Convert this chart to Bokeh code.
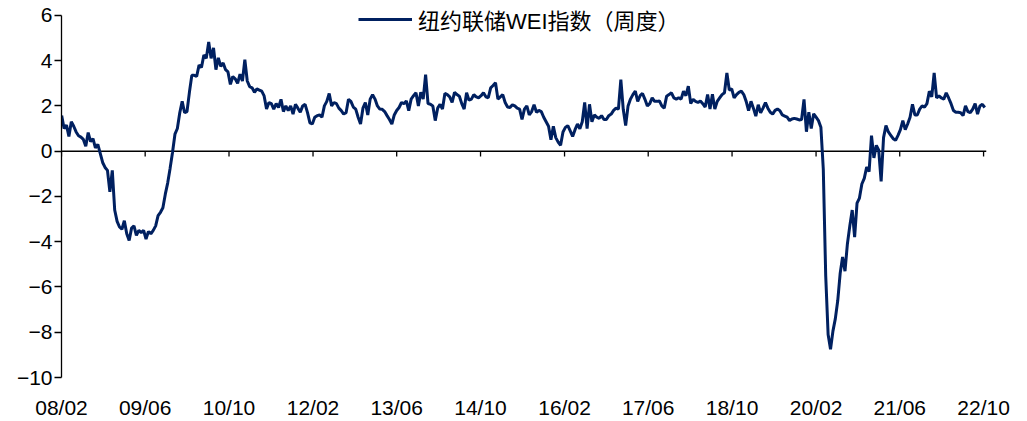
import pandas as pd
from bokeh.plotting import figure
from bokeh.models import (Range1d, FixedTicker, DatetimeTickFormatter, Span,
                          Legend, LegendItem)
from bokeh.embed import file_html
from bokeh.resources import INLINE

series_name = "纽约联储WEI指数（周度）"
start_date = "2008-02-02"
wei = [
    1.57, 1.0, 1.15, 0.65, 1.3, 1.1, 0.85, 0.68, 0.62, 0.52,
    0.22, 0.82, 0.42, 0.55, 0.15, 0.3, -0.1, -0.5, -0.72, -0.85,
    -1.8, -0.85, -2.6, -3.1, -3.35, -3.45, -3.07, -3.65, -3.95, -3.4,
    -3.3, -3.72, -3.5, -3.6, -3.5, -3.88, -3.55, -3.65, -3.5, -3.3,
    -2.85, -2.7, -2.5, -1.9, -1.4, -0.75, -0.05, 0.75, 1.0, 1.7,
    2.2, 1.7, 1.75, 2.6, 3.35, 3.35, 3.3, 3.8, 3.7, 4.25,
    4.1, 4.83, 4.1, 4.56, 3.6, 4.12, 3.75, 3.9, 3.6, 3.5,
    2.95, 3.3, 3.2, 3.0, 3.4, 3.1, 4.04, 3.1, 2.85, 2.8,
    2.6, 2.75, 2.7, 2.65, 2.44, 1.86, 2.15, 2.1, 1.86, 2.1,
    1.93, 2.29, 1.75, 2.0, 1.79, 2.0, 1.64, 2.07, 1.9, 1.72,
    2.0, 2.07, 1.7, 1.25, 1.2, 1.5, 1.57, 1.6, 1.5, 2.0,
    2.2, 2.55, 2.0, 2.15, 2.1, 1.9, 1.79, 1.64, 1.7, 2.29,
    2.2, 1.95, 1.86, 1.5, 1.2, 1.9, 2.15, 1.6, 2.3, 2.5,
    2.3, 2.0, 1.86, 1.85, 1.75, 1.57, 1.4, 1.2, 1.6, 1.8,
    1.93, 2.15, 2.1, 2.22, 1.79, 2.3, 2.45, 2.58, 2.0, 2.6,
    2.3, 3.38, 2.1, 2.07, 2.0, 1.35, 1.9, 2.07, 1.86, 2.55,
    2.5, 2.4, 2.15, 2.6, 2.5, 2.43, 2.1, 1.86, 2.58, 2.25,
    2.3, 2.5, 2.4, 2.36, 2.45, 2.58, 2.4, 2.36, 2.8, 2.9,
    3.02, 2.3, 2.4, 2.5, 2.15, 1.95, 1.93, 2.05, 2.0, 1.9,
    1.86, 1.4, 1.86, 2.0, 1.6, 1.75, 2.05, 1.72, 1.8, 1.75,
    1.5, 1.3, 1.1, 0.5, 1.1, 0.6, 0.4, 0.26, 0.85, 1.05,
    1.13, 0.9, 0.65, 0.95, 1.2, 0.99, 1.3, 2.15, 1.0, 2.07,
    1.3, 1.6, 1.5, 1.45, 1.57, 1.4, 1.4, 1.57, 1.64, 1.8,
    1.9, 1.86, 3.16, 1.85, 1.13, 2.0, 2.3, 2.5, 2.65, 2.2,
    2.45, 2.55, 2.29, 2.0, 2.1, 2.36, 2.2, 2.2, 2.22, 2.0,
    1.9, 2.43, 2.5, 2.58, 2.35, 2.3, 2.36, 2.3, 2.65, 2.45,
    2.87, 2.1, 2.29, 2.2, 2.15, 2.22, 2.1, 1.95, 2.5, 1.86,
    2.51, 1.86, 2.2, 2.35, 2.5, 2.58, 3.46, 2.7, 2.75, 2.35,
    2.5, 2.6, 2.65, 2.5, 2.2, 1.79, 2.2, 1.9, 1.55, 2.05,
    1.7, 1.9, 2.15, 1.9, 1.72, 1.64, 1.8, 1.86, 1.79, 1.6,
    1.55, 1.5, 1.35, 1.42, 1.45, 1.42, 1.38, 1.4, 2.29, 0.86,
    1.72, 1.0, 1.65, 1.5, 1.35, 1.06, -0.8, -5.5, -8.1, -8.75,
    -7.95, -7.4, -6.6, -5.4, -4.68, -5.3, -4.1, -3.3, -2.6, -3.8,
    -2.3, -2.07, -1.45, -1.2, -0.7, -0.9, 0.69, -0.3, 0.26, 0.04,
    -1.34, 0.6, 1.13, 0.85, 0.7, 0.55, 0.48, 0.7, 0.95, 1.35,
    0.95, 1.2, 1.5, 2.07, 1.6, 1.6, 1.86, 2.0, 1.95, 2.1,
    2.65, 2.4, 3.46, 2.36, 2.44, 2.35, 2.3, 2.58, 2.35, 2.1,
    1.8, 1.72, 1.72, 1.7, 1.57, 2.0, 1.75, 1.7, 1.86, 2.1,
    1.64, 2.0, 2.07, 1.93,
]
x_tick_labels = ["08/02", "09/06", "10/10", "12/02", "13/06", "14/10",
                 "16/02", "17/06", "18/10", "20/02", "21/06", "22/10"]
y_ticks = [-10, -8, -6, -4, -2, 0, 2, 4, 6]

dates = pd.date_range(start_date, periods=len(wei), freq="14D")
tick_dates = pd.to_datetime(["20" + t.replace("/", "-") + "-01" for t in x_tick_labels])
tick_ms = [int(t.value // 10**6) for t in tick_dates]

LINE_COLOR = "#002060"
FONT = "Liberation Sans"

p = figure(width=1027, height=421, x_axis_type="datetime",
           output_backend="svg", toolbar_location=None,
           min_border_left=61, min_border_right=41,
           min_border_top=5, min_border_bottom=39)
p.x_range = Range1d(start=pd.Timestamp("2008-02-01"), end=pd.Timestamp("2022-10-18"))
# a little headroom above the top tick so the legend fits inside the frame
p.y_range = Range1d(start=min(y_ticks), end=max(y_ticks) + 0.436)
p.outline_line_color = None
p.xgrid.visible = False
p.ygrid.visible = False
p.background_fill_color = "white"

zero = Span(location=0, dimension="width", line_color="black",
            line_width=1.5, level="underlay")
p.add_layout(zero)
p.segment(x0=tick_dates, y0=0, x1=tick_dates, y1=-0.24,
          line_color="black", line_width=1.3)

r = p.line(dates, wei, line_color=LINE_COLOR, line_width=3)

xa = p.xaxis[0]
xa.ticker = FixedTicker(ticks=tick_ms)
xa.formatter = DatetimeTickFormatter(
    microseconds="%y/%m", milliseconds="%y/%m", seconds="%y/%m",
    minsec="%y/%m", minutes="%y/%m", hourmin="%y/%m", hours="%y/%m",
    days="%y/%m", months="%y/%m", years="%y/%m")
xa.axis_line_color = None
xa.major_tick_line_color = None
xa.minor_tick_line_color = None
xa.major_label_standoff = 12
xa.major_label_text_font = FONT
xa.major_label_text_font_size = "21px"
xa.major_label_text_color = "black"

ya = p.yaxis[0]
ya.ticker = FixedTicker(ticks=y_ticks)
ya.bounds = (min(y_ticks), max(y_ticks))
ya.axis_line_color = "black"
ya.axis_line_width = 1.3
ya.major_tick_line_color = "black"
ya.major_tick_line_width = 1.3
ya.major_tick_out = 7
ya.major_tick_in = 0
ya.minor_tick_line_color = None
ya.major_label_standoff = 2
ya.major_label_text_font = FONT
ya.major_label_text_font_size = "21px"
ya.major_label_text_color = "black"

legend = Legend(items=[LegendItem(label=series_name, renderers=[r])],
                location=(297, 342), orientation="horizontal",
                border_line_color=None, background_fill_alpha=0,
                padding=0, margin=0, spacing=0,
                glyph_width=54, glyph_height=24, label_height=24,
                label_standoff=6,
                label_text_font="Liberation Sans, Noto Sans CJK SC",
                label_text_font_size="22px", label_text_color="black")
p.add_layout(legend)

open("out.html", "w").write(file_html(p, INLINE))
